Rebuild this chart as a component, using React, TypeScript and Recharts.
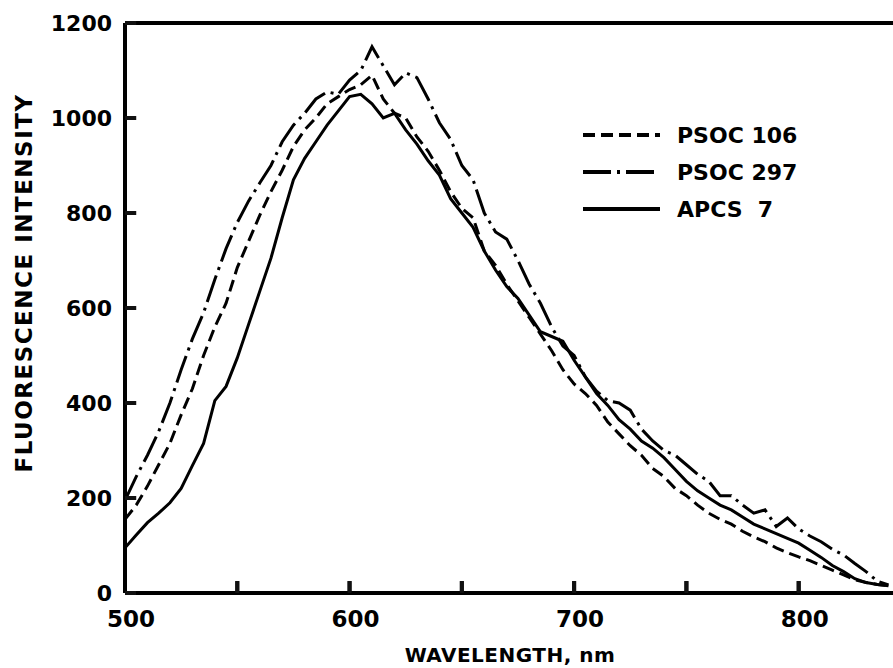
import React from 'react';
import { LineChart, Line, XAxis, YAxis, ReferenceLine, Legend } from 'recharts';

// wavelength grid (nm) and intensities
const wavelengths = [
  500, 505, 510, 515, 520, 525, 530, 535, 540, 545, 550, 555, 560, 565, 570, 575, 580, 585, 590, 595, 600,
  605, 610, 615, 620, 625, 630, 635, 640, 645, 650, 655, 660, 665, 670, 675, 680, 685, 690, 695, 700,
  705, 710, 715, 720, 725, 730, 735, 740, 745, 750, 755, 760, 765, 770, 775, 780, 785, 790, 795, 800,
  805, 810, 815, 820, 825, 830, 835, 840,
];

const psoc106 = [
  155, 185, 225, 270, 315, 375, 430, 500, 560, 610, 685, 740, 795, 845, 890, 940, 975, 1000, 1030, 1045, 1060,
  1070, 1090, 1040, 1010, 1000, 960, 930, 890, 845, 810, 790, 720, 690, 650, 615, 580, 545, 510, 470, 440,
  420, 395, 360, 335, 310, 290, 262, 245, 220, 205, 185, 168, 155, 145, 130, 118, 108, 95, 85, 76,
  68, 58, 48, 38, 28, 22, 18, 16,
];

const psoc297 = [
  195, 245, 290, 340, 400, 470, 535, 590, 660, 725, 780, 825, 863, 900, 950, 985, 1010, 1040, 1055, 1050, 1080,
  1100, 1150, 1110, 1070, 1095, 1085, 1040, 990, 955, 900, 870, 800, 760, 745, 700, 650, 610, 560, 520, 500,
  455, 425, 405, 400, 385, 345, 320, 300, 290, 270, 250, 235, 205, 205, 185, 168, 175, 140, 158, 135,
  120, 108, 92, 80, 62, 45, 25, 17,
];

const apcs7 = [
  95, 122, 148, 168, 190, 220, 268, 315, 405, 435, 495, 565, 635, 705, 790, 870, 915, 950, 985, 1015, 1045,
  1050, 1030, 1000, 1010, 975, 945, 910, 880, 830, 800, 770, 720, 680, 645, 620, 585, 550, 540, 530, 490,
  455, 420, 395, 365, 345, 320, 305, 285, 260, 235, 215, 200, 185, 175, 160, 145, 135, 125, 115, 105,
  90, 75, 58, 45, 30, 22, 18, 15,
];

const xTicks = [500, 550, 600, 650, 700, 750, 800];
const xLabelled = [500, 600, 700, 800];
const yTicks = [0, 200, 400, 600, 800, 1000, 1200];

const seriesNames = ['PSOC 106', 'PSOC 297', 'APCS  7'];
const seriesKeys = ['psoc106', 'psoc297', 'apcs7'];
const seriesDash = ['12 6', '28 6 3 6', undefined];

const chartData = wavelengths.map((w, i) => ({
  wl: w,
  psoc106: psoc106[i],
  psoc297: psoc297[i],
  apcs7: apcs7[i],
}));

const FONT = '"DejaVu Sans", Arial, sans-serif';
const INK = '#111111';

const YTick = (props: any) => {
  const { x, y, payload } = props;
  return (
    <text x={x} y={y} dy={8} textAnchor="end" fontSize={22} fontWeight="bold" fontFamily={FONT} fill="#000">
      {payload.value}
    </text>
  );
};

const XTick = (props: any) => {
  const { x, y, payload } = props;
  if (!xLabelled.includes(payload.value)) return <g />;
  return (
    <text x={x + 6} y={y + 22} textAnchor="middle" fontSize={23} fontWeight="bold" fontFamily={FONT} fill="#000">
      {payload.value}
    </text>
  );
};

const renderLegend = () => (
  <svg width={260} height={110}>
    {seriesNames.map((name, i) => (
      <g key={name}>
        <line
          x1={8}
          x2={85}
          y1={17 + i * 37}
          y2={17 + i * 37}
          stroke="#000"
          strokeWidth={4}
          strokeDasharray={seriesDash[i]}
        />
        <text
          x={102}
          y={17 + i * 37 + 8}
          fontSize={22}
          fontWeight="bold"
          fontFamily={FONT}
          fill="#000"
          style={{ whiteSpace: 'pre' }}
        >
          {name}
        </text>
      </g>
    ))}
  </svg>
);

const App: React.FC = () => {
  return (
    <div style={{ position: 'absolute', left: 0, top: 0, width: 893, height: 668, background: '#fff' }}>
      <LineChart width={893} height={668} data={chartData} margin={{ top: 23, right: 0, bottom: 0, left: 0 }}>
        <XAxis
          dataKey="wl"
          type="number"
          domain={[500, 842]}
          ticks={xTicks}
          interval={0}
          height={75}
          tickSize={-12}
          tickMargin={24}
          tick={<XTick />}
          axisLine={{ stroke: '#000', strokeWidth: 4 }}
          tickLine={{ stroke: INK, strokeWidth: 4 }}
          label={{
            content: () => (
              <text x={510} y={662} textAnchor="middle" fontSize={20} fontWeight="bold" fontFamily={FONT} letterSpacing={0.5} fill="#000">
                WAVELENGTH, nm
              </text>
            ),
          }}
        />
        <YAxis
          type="number"
          domain={[0, 1200]}
          ticks={yTicks}
          interval={0}
          width={125}
          tickSize={-11}
          tickMargin={24}
          tick={<YTick />}
          axisLine={{ stroke: '#000', strokeWidth: 4 }}
          tickLine={{ stroke: INK, strokeWidth: 4 }}
          label={{
            content: () => (
              <text
                x={32}
                y={283}
                transform="rotate(-90, 32, 283)"
                textAnchor="middle"
                fontSize={23}
                fontWeight="bold"
                fontFamily={FONT}
                letterSpacing={1.5}
                fill="#000"
              >
                FLUORESCENCE  INTENSITY
              </text>
            ),
          }}
        />
        <ReferenceLine y={1200} stroke="#000" strokeWidth={4} />
        {/* inward tick marks, also drawn as short segments on the scales */}
        {yTicks.map((v) => (
          <ReferenceLine key={`yt${v}`} segment={[{ x: 500, y: v }, { x: 505, y: v }]} stroke={INK} strokeWidth={4} />
        ))}
        {xTicks.map((v) => (
          <ReferenceLine key={`xt${v}`} segment={[{ x: v, y: 0 }, { x: v, y: 25 }]} stroke={INK} strokeWidth={4} />
        ))}
        <Legend
          layout="vertical"
          align="center"
          verticalAlign="middle"
          content={renderLegend}
          wrapperStyle={{ position: 'absolute', left: 575, top: 118, width: 260, height: 110 }}
        />
        {seriesKeys.map((key, i) => (
          <Line
            key={key}
            dataKey={key}
            name={seriesNames[i]}
            type="linear"
            stroke="#000"
            strokeWidth={3}
            strokeDasharray={seriesDash[i]}
            dot={false}
            activeDot={false}
            isAnimationActive={false}
          />
        ))}
      </LineChart>
    </div>
  );
};

export default App;
